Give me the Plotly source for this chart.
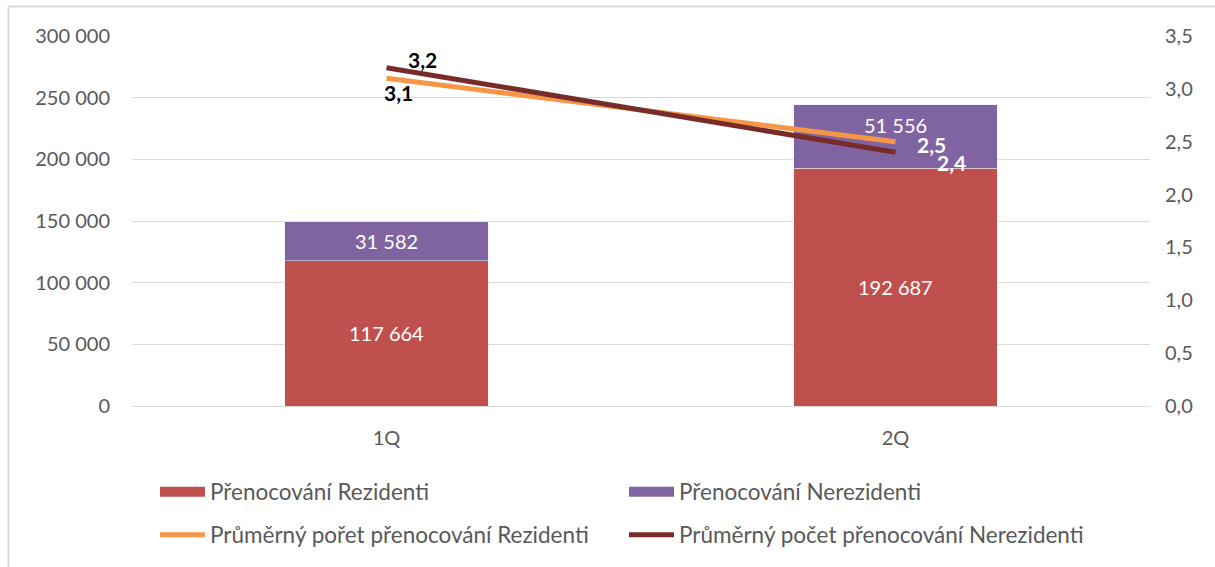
import plotly.graph_objects as go

categories = ["1Q", "2Q"]
rezidenti = [117664, 192687]
nerezidenti = [31582, 51556]
avg_rezidenti = [3.1, 2.5]
avg_nerezidenti = [3.2, 2.4]

names = ["Přenocování Rezidenti", "Přenocování Nerezidenti",
         "Průměrný pořet přenocování Rezidenti", "Průměrný počet přenocování Nerezidenti"]
colors = ["#C0504D", "#8064A2", "#F79646", "#772C2A"]

FONT = "Lato, Open Sans, sans-serif"
GRAY = "#595959"

fig = go.Figure()
fig.add_trace(go.Bar(x=categories, y=rezidenti, name=names[0], marker_color=colors[0],
                     showlegend=False, hoverinfo="y"))
fig.add_trace(go.Bar(x=categories, y=nerezidenti, name=names[1], marker_color=colors[1],
                     showlegend=False, hoverinfo="y"))
# legend entries for bars shown as wide swatches
for i in range(2):
    fig.add_trace(go.Scatter(x=[None], y=[None], mode="lines", name=names[i],
                             line=dict(color=colors[i], width=14), legend="legend",
                             hoverinfo="skip"))
fig.add_trace(go.Scatter(x=categories, y=avg_rezidenti, name=names[2], yaxis="y2", mode="lines",
                         line=dict(color=colors[2], width=5), legend="legend2"))
fig.add_trace(go.Scatter(x=categories, y=avg_nerezidenti, name=names[3], yaxis="y2", mode="lines",
                         line=dict(color=colors[3], width=5), legend="legend2"))

# bar value labels (centered in segments; 2Q upper label sits a bit higher as in the reference)
bar_label_yshift = [[0, 0], [0, 12]]
for si, series in enumerate([rezidenti, nerezidenti]):
    for ci, cat in enumerate(categories):
        base = rezidenti[ci] if si == 1 else 0
        fig.add_annotation(x=cat, y=base + series[ci] / 2, xref="x", yref="y",
                           text=f"{series[ci]:,}".replace(",", " "), showarrow=False,
                           yshift=bar_label_yshift[si][ci],
                           font=dict(size=20, color="white", family=FONT))

# line data labels
label_specs = [
    (categories[0], avg_nerezidenti[0], 36, 8, "black"),
    (categories[0], avg_rezidenti[0], 12, -14, "black"),
    (categories[1], avg_rezidenti[1], 36, -3, "white"),
    (categories[1], avg_nerezidenti[1], 56, -10, "white"),
]
for cx, cy, xs, ys, col in label_specs:
    fig.add_annotation(x=cx, y=cy, xref="x", yref="y2", text=f"<b>{cy:.1f}</b>".replace(".", ","),
                       showarrow=False, xshift=xs, yshift=ys,
                       font=dict(size=21, color=col, family=FONT))

leg_common = dict(orientation="h", xanchor="left", yanchor="middle",
                  entrywidth=409, entrywidthmode="pixels", font=dict(size=22.5, color=GRAY),
                  traceorder="normal", itemwidth=45, bgcolor="rgba(0,0,0,0)")

fig.update_layout(
    barmode="stack", bargap=0.6,
    width=1215, height=567,
    margin=dict(l=132, r=65, t=36, b=161, autoexpand=False),
    paper_bgcolor="white", plot_bgcolor="white",
    separators=", ",
    font=dict(family=FONT, size=21, color=GRAY),
    showlegend=True,
    legend=dict(x=23/1018, y=-(492-406)/370, **leg_common),
    legend2=dict(x=23/1018, y=-(535-406)/370, **leg_common),
    xaxis=dict(showgrid=False, showline=True, linecolor="#d9d9d9", linewidth=1,
               tickfont=dict(size=20, color=GRAY), ticks="", ticklabelstandoff=14),
    yaxis=dict(range=[0, 300000], dtick=50000, tickformat=",d", gridcolor="#d9d9d9",
               zeroline=False, showline=False, tickfont=dict(size=20, color=GRAY), ticks="",
               ticklabelstandoff=21),
    yaxis2=dict(range=[0, 3.5], dtick=0.5, tickformat=".1f", overlaying="y", side="right",
                showgrid=False, zeroline=False, tickfont=dict(size=20, color=GRAY),
                ticklabelstandoff=14),
    shapes=[
        dict(type="line", xref="paper", yref="paper", x0=-123.5/1018, x1=-123.5/1018,
             y0=-(600-406)/370, y1=(406-6)/370, line=dict(color="#d9d9d9", width=2), layer="below"),
        dict(type="line", xref="paper", yref="paper", x0=-123.5/1018, x1=(1300-132)/1018,
             y0=(406-6.5)/370, y1=(406-6.5)/370, line=dict(color="#d9d9d9", width=2), layer="below"),
    ],
)

fig.write_html("out.html", config={"displayModeBar": False},
               post_script="document.body.style.margin='0px';")
